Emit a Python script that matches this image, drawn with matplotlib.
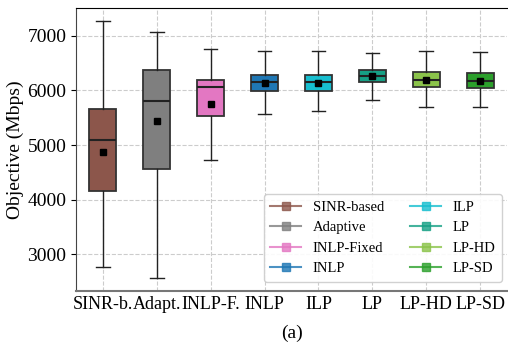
import matplotlib
matplotlib.use("Agg")
import matplotlib.pyplot as plt
from matplotlib.lines import Line2D

plt.rcParams['font.family'] = ['Liberation Serif', 'DejaVu Serif']

# etiquetas y nombres de los metodos
labels = ['SINR-b.', 'Adapt.', 'INLP-F.', 'INLP', 'ILP', 'LP', 'LP-HD', 'LP-SD']
names = ['SINR-based', 'Adaptive', 'INLP-Fixed', 'INLP', 'ILP', 'LP', 'LP-HD', 'LP-SD']
colors = ['#8c564b', '#7f7f7f', '#e377c2', '#1f77b4', '#17becf', '#16a085', '#8bc34a', '#2ca02c']

# estadisticas (Mbps)
whislo = [2762, 2572, 4720, 5573, 5628, 5823, 5701, 5701]
q1 = [4158, 4566, 5531, 5983, 5983, 6153, 6067, 6049]
med = [5086, 5811, 6067, 6153, 6147, 6263, 6189, 6177]
q3 = [5664, 6367, 6184, 6281, 6281, 6372, 6336, 6323]
whishi = [7263, 7062, 6757, 6714, 6714, 6678, 6714, 6696]
mean = [4878, 5433, 5745, 6129, 6129, 6257, 6189, 6171]

stats = []
for i in range(len(labels)):
    stats.append({'label': labels[i], 'whislo': whislo[i], 'q1': q1[i], 'med': med[i],
                  'q3': q3[i], 'whishi': whishi[i], 'mean': mean[i], 'fliers': []})

fig = plt.figure(figsize=(5.08, 3.49), dpi=100)
ax = fig.add_axes([76 / 508, 1 - 290.7 / 349, 431 / 508, 282.7 / 349])

bp = ax.bxp(stats, positions=range(1, 9), widths=0.5, patch_artist=True, showmeans=True,
            meanprops=dict(marker='s', markerfacecolor='black', markeredgecolor='black', markersize=5),
            medianprops=dict(color='#222222', linewidth=1.5),
            whiskerprops=dict(color='#222222', linewidth=1.0),
            capprops=dict(color='#222222', linewidth=1.0),
            boxprops=dict(edgecolor='#333333', linewidth=1.3))
for patch, c in zip(bp['boxes'], colors):
    patch.set_facecolor(c)

ax.set_xlim(0.5, 8.5)
ax.set_ylim(2335, 7510)
ax.set_yticks([3000, 4000, 5000, 6000, 7000])
ax.tick_params(axis='y', labelsize=14)
ax.tick_params(axis='x', labelsize=13, length=0, pad=4)
ax.grid(True, linestyle='--', color='#cccccc', linewidth=0.8)
ax.set_axisbelow(True)
ax.set_ylabel('Objective (Mbps)', fontsize=14, labelpad=2)
ax.set_xlabel('(a)', fontsize=14, labelpad=8)

ax.spines['left'].set_color('#444444')
ax.spines['bottom'].set_color('#777777')
ax.spines['bottom'].set_linewidth(1.5)
ax.spines['right'].set_visible(False)

handles = [Line2D([0], [0], color=c, marker='s', markersize=6, linewidth=1.5, alpha=0.8)
           for c in colors]
ax.legend(handles, names, ncol=2, loc='lower right', fontsize=10.5, framealpha=0.9,
          borderpad=0.45, labelspacing=0.5, handlelength=2.1, columnspacing=1.8,
          borderaxespad=0, bbox_to_anchor=(1 - 5 / 431, 8.7 / 282.7))

fig.savefig('out.png', dpi=100)
